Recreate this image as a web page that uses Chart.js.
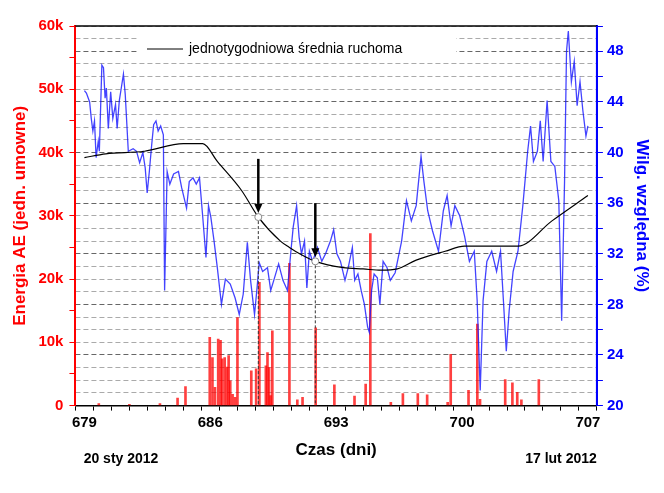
<!DOCTYPE html>
<html>
<head>
<meta charset="utf-8">
<script src="https://cdn.jsdelivr.net/npm/chart.js@4"></script>
<style>
  body { margin: 0; background: #fff; }
  #wrap { width: 664px; height: 493px; }
</style>
</head>
<body>
<div id="wrap"><canvas id="aeChart"></canvas></div>
<script>
// dane
const energyDays = [679.8, 681.5, 683.2, 684.18, 684.62, 685.97, 686.12, 686.26, 686.44, 686.57, 686.66, 686.8, 686.93, 687.02, 687.11, 687.24, 687.38, 687.51, 688.28, 688.55, 688.73, 689.09, 689.18, 689.27, 689.35, 689.45, 690.4, 690.84, 691.13, 691.86, 692.9, 694.02, 694.64, 694.9, 696.04, 696.71, 697.54, 698.06, 699.2, 699.37, 700.36, 700.85, 701.0, 702.4, 702.8, 703.07, 703.3, 704.27];
const energyVals = [300, 200, 300, 1200, 3000, 10800, 7600, 2900, 10500, 10300, 7400, 7600, 6100, 7900, 3900, 1800, 1300, 13900, 5500, 5800, 19500, 6300, 8400, 6000, 1600, 11800, 22500, 900, 1300, 12300, 3300, 1500, 3400, 27200, 500, 1900, 1900, 1700, 500, 8100, 2400, 12900, 1000, 4100, 3600, 2100, 900, 4100];

const humDays = [679.0, 679.11, 679.29, 679.38, 679.47, 679.56, 679.65, 679.77, 679.83, 679.97, 680.06, 680.15, 680.22, 680.33, 680.46, 680.58, 680.73, 680.82, 680.94, 681.05, 681.17, 681.27, 681.44, 681.71, 681.9, 682.07, 682.25, 682.38, 682.49, 682.61, 682.74, 682.85, 682.98, 683.1, 683.24, 683.39, 683.46, 683.6, 683.75, 683.96, 684.23, 684.41, 684.68, 684.83, 685.04, 685.22, 685.4, 685.58, 685.76, 685.9, 686.03, 686.21, 686.39, 686.62, 686.84, 687.11, 687.38, 687.61, 687.83, 688.06, 688.24, 688.46, 688.6, 688.72, 688.91, 689.18, 689.36, 689.53, 689.8, 690.04, 690.29, 690.47, 690.61, 690.8, 690.94, 691.07, 691.24, 691.37, 691.51, 691.69, 691.96, 692.2, 692.41, 692.68, 692.86, 693.04, 693.24, 693.49, 693.67, 693.9, 694.03, 694.21, 694.39, 694.57, 694.75, 694.84, 694.97, 695.11, 695.29, 695.43, 695.61, 695.83, 696.01, 696.28, 696.64, 696.91, 697.18, 697.45, 697.72, 697.88, 698.09, 698.36, 698.69, 698.96, 699.17, 699.39, 699.6, 699.87, 700.14, 700.41, 700.68, 700.84, 701.01, 701.17, 701.38, 701.65, 701.92, 702.14, 702.3, 702.46, 702.62, 702.84, 703.11, 703.38, 703.65, 703.81, 703.97, 704.19, 704.35, 704.51, 704.73, 704.94, 705.16, 705.38, 705.54, 705.7, 705.81, 705.91, 706.08, 706.24, 706.4, 706.56, 706.72, 706.89, 707.0];
const humVals = [44.9, 44.7, 44.0, 42.7, 41.7, 42.5, 39.6, 40.9, 40.1, 46.9, 46.7, 44.3, 45.1, 41.9, 44.8, 42.7, 43.8, 41.9, 44.1, 45.1, 46.2, 44.6, 40.1, 40.3, 40.1, 39.2, 40.0, 38.8, 36.8, 38.5, 40.6, 42.2, 42.5, 41.7, 42.1, 41.4, 29.1, 38.5, 37.5, 38.3, 38.5, 37.2, 35.6, 37.7, 38.0, 37.5, 38.0, 34.9, 31.7, 35.8, 34.9, 33.0, 30.9, 28.0, 30.0, 29.6, 28.5, 27.2, 28.8, 32.9, 29.9, 27.2, 29.3, 31.3, 30.6, 30.9, 29.1, 29.9, 31.2, 29.9, 29.1, 32.0, 34.1, 35.8, 33.3, 32.0, 33.0, 29.3, 32.2, 31.4, 32.5, 31.4, 32.0, 33.0, 33.9, 32.0, 31.4, 29.9, 30.9, 32.5, 29.9, 30.4, 29.1, 28.0, 26.2, 25.8, 29.1, 30.4, 30.1, 28.0, 31.4, 30.9, 29.9, 30.5, 33.0, 36.2, 34.6, 35.8, 39.7, 37.7, 35.4, 33.8, 32.2, 35.4, 36.6, 34.2, 35.8, 35.0, 33.4, 31.4, 32.2, 28.3, 21.2, 28.3, 31.4, 32.2, 30.6, 32.2, 28.3, 24.3, 27.5, 30.6, 32.2, 35.8, 40.1, 42.1, 39.3, 40.1, 42.5, 39.3, 44.1, 39.3, 38.9, 36.2, 26.7, 37.7, 48.0, 49.6, 45.6, 47.2, 43.7, 45.6, 43.3, 41.3, 42.1];

const avgDays = [679, 680.19, 682.34, 684.5, 685.58, 686.39, 687.74, 688.67, 689.9, 690.4, 690.97, 691.84, 693.4, 694.5, 695.5, 696.4, 697.45, 699.06, 700.14, 701.76, 703.11, 705, 707];
const avgVals = [39.6, 39.9, 40.1, 40.7, 40.7, 39.3, 37.0, 34.9, 33.0, 32.5, 32.0, 31.4, 30.9, 30.8, 30.7, 30.8, 31.5, 32.2, 32.6, 32.6, 32.6, 34.6, 36.6];

const markerDays = [688.67, 691.84];
const markerVals = [34.9, 31.4];

const xTicks = [679, 686, 693, 700, 707];
const startLabel = "20 sty 2012";
const endLabel = "17 lut 2012";
const legendLabel = "jednotygodniowa średnia ruchoma";

const FONT = "'Liberation Sans', Arial, sans-serif";

// strzałki, kółka i przerywane linie w punktach zaznaczonych
const markerPlugin = {
  id: "markers",
  afterDatasetsDraw(chart) {
    const { ctx, scales, chartArea } = chart;
    ctx.save();
    markerDays.forEach((d, i) => {
      const px = scales.x.getPixelForValue(d);
      const py = scales.y1.getPixelForValue(markerVals[i]);
      // przerywana linia do osi
      ctx.strokeStyle = "#333";
      ctx.lineWidth = 1;
      ctx.setLineDash([3, 2]);
      ctx.beginPath();
      ctx.moveTo(px, py + 4);
      ctx.lineTo(px, scales.y.getPixelForValue(0));
      ctx.stroke();
      ctx.setLineDash([]);
      // strzałka
      const top = scales.y1.getPixelForValue(markerVals[i] + 4.6);
      ctx.strokeStyle = "#000";
      ctx.fillStyle = "#000";
      ctx.lineWidth = 2.5;
      ctx.beginPath();
      ctx.moveTo(px, top);
      ctx.lineTo(px, py - 10);
      ctx.stroke();
      ctx.beginPath();
      ctx.moveTo(px - 4, py - 13);
      ctx.lineTo(px + 4, py - 13);
      ctx.lineTo(px, py - 4);
      ctx.closePath();
      ctx.fill();
      // kółko
      ctx.fillStyle = "#fff";
      ctx.strokeStyle = "#888";
      ctx.lineWidth = 1;
      ctx.beginPath();
      ctx.arc(px, py, 3.5, 0, Math.PI * 2);
      ctx.fill();
      ctx.stroke();
    });
    // górna krawędź i prawa oś
    ctx.strokeStyle = "#000";
    ctx.lineWidth = 1.5;
    ctx.beginPath();
    ctx.moveTo(chartArea.left, chartArea.top);
    ctx.lineTo(chartArea.right, chartArea.top);
    ctx.stroke();
    ctx.strokeStyle = "#00f";
    ctx.lineWidth = 2;
    ctx.beginPath();
    ctx.moveTo(chartArea.right, chartArea.top);
    ctx.lineTo(chartArea.right, chartArea.bottom);
    ctx.stroke();
    ctx.restore();
  },
  beforeDatasetsDraw(chart) {
    // legenda w polu wykresu
    const { ctx } = chart;
    ctx.save();
    ctx.fillStyle = "#fff";
    ctx.fillRect(138, 38, 318, 22);
    ctx.strokeStyle = "#000";
    ctx.lineWidth = 1;
    ctx.beginPath();
    ctx.moveTo(147, 49);
    ctx.lineTo(183, 49);
    ctx.stroke();
    ctx.fillStyle = "#000";
    ctx.font = "14px " + FONT;
    ctx.textBaseline = "middle";
    ctx.fillText(legendLabel, 189, 49);
    ctx.restore();
  },
  afterDraw(chart) {
    const { ctx } = chart;
    ctx.save();
    ctx.fillStyle = "#000";
    ctx.font = "bold 14px " + FONT;
    ctx.textBaseline = "middle";
    ctx.textAlign = "center";
    ctx.fillText(startLabel, 121, 459);
    ctx.fillText(endLabel, 561, 459);
    ctx.restore();
  },
};

const ctx = document.getElementById("aeChart").getContext("2d");
const aeChart = new Chart(ctx, {
  type: "bar",
  data: {
    datasets: [
      {
        type: "line",
        label: legendLabel,
        data: avgDays.map((d, i) => ({ x: d, y: avgVals[i] })),
        yAxisID: "y1",
        borderColor: "#000",
        borderWidth: 1.2,
        pointRadius: 0,
        cubicInterpolationMode: "monotone",
        order: 1,
      },
      {
        type: "line",
        label: "Wilgotność",
        data: humDays.map((d, i) => ({ x: d, y: humVals[i] })),
        yAxisID: "y1",
        borderColor: "rgba(20, 20, 255, 0.8)",
        borderWidth: 1.3,
        pointRadius: 0,
        order: 2,
      },
      {
        label: "Energia AE",
        data: energyDays.map((d, i) => ({ x: d, y: energyVals[i] })),
        yAxisID: "y",
        backgroundColor: "rgba(255, 0, 0, 0.75)",
        barThickness: 2,
        grouped: false,
        order: 3,
      },
    ],
  },
  options: {
    responsive: true,
    maintainAspectRatio: false,
    animation: false,
    layout: { padding: { left: 6, right: 0, top: 26, bottom: 28 } },
    plugins: { legend: { display: false }, tooltip: { enabled: false } },
    scales: {
      x: {
        type: "linear",
        min: 679,
        max: 707,
        ticks: {
          stepSize: 1,
          autoSkip: false,
          maxRotation: 0,
          color: "#000",
          font: { family: FONT, size: 15, weight: "bold" },
          callback: (v) => (xTicks.includes(v) ? v : ""),
        },
        grid: { drawOnChartArea: false, color: "#000", tickLength: 5 },
        border: { color: "#000", width: 1.5 },
        title: {
          display: true,
          text: "Czas (dni)",
          color: "#000",
          font: { family: FONT, size: 17, weight: "bold" },
          padding: { top: 6 },
        },
      },
      y: {
        position: "left",
        min: 0,
        max: 60000,
        ticks: {
          stepSize: 5000,
          padding: 6,
          color: "#f00",
          font: { family: FONT, size: 15, weight: "bold" },
          callback: (v) => (v % 10000 === 0 ? (v === 0 ? "0" : v / 1000 + "k") : ""),
        },
        grid: { drawOnChartArea: false, color: "#f00", tickLength: 6 },
        border: { color: "#f00", width: 2 },
        title: {
          display: true,
          text: "Energia AE (jedn. umowne)",
          color: "#f00",
          font: { family: FONT, size: 17, weight: "bold" },
          padding: { bottom: 2 },
        },
      },
      y1: {
        position: "right",
        min: 20,
        max: 50,
        ticks: {
          stepSize: 1,
          autoSkip: false,
          padding: 4,
          color: "#00f",
          font: { family: FONT, size: 15, weight: "bold" },
          callback: (v) => (v % 4 === 0 ? v : ""),
        },
        grid: {
          drawOnChartArea: true,
          color: (c) => (c.tick && c.tick.value % 4 === 0 ? "#666" : "#aaa"),
          tickColor: (c) => (c.tick && c.tick.value % 2 === 0 ? "#00f" : "rgba(0,0,0,0)"),
          tickLength: 6,
          lineWidth: 1,
        },
        border: { color: "#00f", width: 2, dash: [5, 3] },
        title: {
          display: true,
          text: "Wilg. względna (%)",
          color: "#00f",
          font: { family: FONT, size: 17, weight: "bold" },
          padding: { top: 12 },
        },
      },
    },
  },
  plugins: [markerPlugin],
});
</script>
</body>
</html>
